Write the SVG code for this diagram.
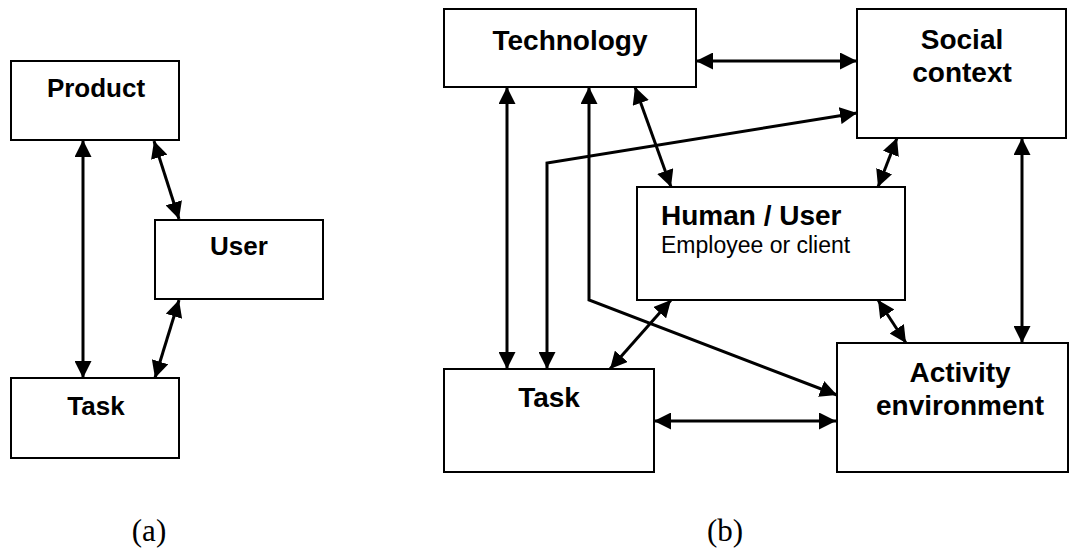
<svg xmlns="http://www.w3.org/2000/svg" width="1075" height="552" viewBox="0 0 1075 552">
<style>
.box{fill:#fff;stroke:#000;stroke-width:2}
.t{font-family:"Liberation Sans",Arial,sans-serif;font-weight:bold;fill:#000;text-anchor:middle}
.s{font-family:"Liberation Sans",Arial,sans-serif;font-size:23px;fill:#000}
.cap{font-family:"Liberation Serif","Times New Roman",serif;font-size:31px;fill:#000;text-anchor:middle}
.c{fill:none;stroke:#000;stroke-width:3;marker-start:url(#ah);marker-end:url(#ah)}
</style>
<defs>
<marker id="ah" markerUnits="userSpaceOnUse" markerWidth="17" markerHeight="17" refX="17" refY="8.5" orient="auto-start-reverse" viewBox="0 0 17 17">
<path d="M0,0 L17,8.5 L0,17 z" fill="#000"/>
</marker>
</defs>
<rect width="1075" height="552" fill="#fff"/>
<g id="connectors">
<path class="c" d="M83,140 L83,378"/>
<path class="c" d="M154,141 L179,219"/>
<path class="c" d="M179,300 L155,378"/>
<path class="c" d="M696,61 L857,61"/>
<path class="c" d="M507,87 L507,369"/>
<path class="c" d="M857,113 L547,163 L547,369"/>
<path class="c" d="M589,87 L589,300 L837,395"/>
<path class="c" d="M635,87 L671,187"/>
<path class="c" d="M897,138 L878,187"/>
<path class="c" d="M1022,138 L1022,343"/>
<path class="c" d="M878,300 L906,343"/>
<path class="c" d="M610,369 L671,300"/>
<path class="c" d="M654,421 L836,421"/>
</g>
<g id="product"><rect class="box" x="11" y="61" width="168" height="79"/><text class="t" x="96" y="97" font-size="26">Product</text></g>
<g id="user"><rect class="box" x="155" y="220" width="168" height="79"/><text class="t" x="239" y="255" font-size="26">User</text></g>
<g id="task-a"><rect class="box" x="11" y="378" width="168" height="80"/><text class="t" x="96" y="415" font-size="26">Task</text></g>
<g id="technology"><rect class="box" x="444" y="9" width="252" height="78"/><text class="t" x="570" y="50" font-size="28">Technology</text></g>
<g id="social"><rect class="box" x="857" y="9" width="209" height="129"/><text class="t" x="962" y="49" font-size="28">Social</text><text class="t" x="962" y="82" font-size="28">context</text></g>
<g id="human"><rect class="box" x="637" y="187" width="268" height="113"/><text class="t" x="661" y="225" font-size="28" style="text-anchor:start">Human / User</text><text class="s" x="661" y="253">Employee or client</text></g>
<g id="task-b"><rect class="box" x="444" y="369" width="210" height="103"/><text class="t" x="549" y="407" font-size="28">Task</text></g>
<g id="activity"><rect class="box" x="837" y="343" width="231" height="129"/><text class="t" x="960" y="382" font-size="28">Activity</text><text class="t" x="960" y="415" font-size="28">environment</text></g>
<text class="cap" x="149" y="541">(a)</text>
<text class="cap" x="725" y="541">(b)</text>
</svg>
